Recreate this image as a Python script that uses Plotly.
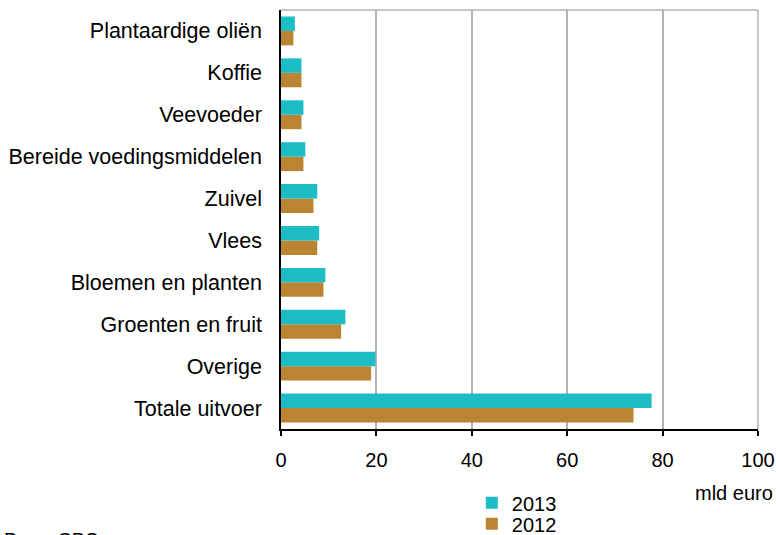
import plotly.graph_objects as go

categories = ["Plantaardige oliën", "Koffie", "Veevoeder", "Bereide voedingsmiddelen",
              "Zuivel", "Vlees", "Bloemen en planten", "Groenten en fruit",
              "Overige", "Totale uitvoer"]
values_2013 = [2.9, 4.3, 4.7, 5.1, 7.6, 8.0, 9.3, 13.5, 19.8, 77.7]
values_2012 = [2.6, 4.3, 4.3, 4.7, 6.8, 7.6, 8.9, 12.6, 18.9, 73.9]
x_ticks = [0, 20, 40, 60, 80, 100]

teal = "#1DBDC6"
brown = "#BA8433"
grid = "#B4B4B4"
font = "Liberation Sans, Arial, sans-serif"
FS = 20

fig = go.Figure()
fig.add_trace(go.Bar(y=categories, x=values_2012, name="2012", orientation="h",
                     legend="legend2",
                     marker=dict(color=brown, line=dict(width=0))))
fig.add_trace(go.Bar(y=categories, x=values_2013, name="2013", orientation="h",
                     legend="legend",
                     marker=dict(color=teal, line=dict(width=0))))

legend_common = dict(xanchor="left", yanchor="middle", font=dict(size=FS),
                     itemwidth=30, bgcolor="rgba(0,0,0,0)", borderwidth=0)

fig.update_layout(
    width=776, height=535,
    margin=dict(l=281, r=18, t=10, b=106, autoexpand=False),
    paper_bgcolor="white", plot_bgcolor="white",
    barmode="group", bargap=0.31, bargroupgap=0,
    font=dict(family=font, size=FS, color="#000000"),
    showlegend=True,
    legend=dict(x=0.4, y=-0.176, **legend_common),
    legend2=dict(x=0.4, y=-0.226, **legend_common),
    xaxis=dict(range=[0, 100], tickvals=x_ticks, showgrid=True, gridcolor=grid,
               gridwidth=1.5, zeroline=False, showline=True, linecolor="black", linewidth=1.5,
               ticks="outside", ticklen=5, tickcolor="black", tickwidth=1.5,
               ticklabelstandoff=7, tickfont=dict(size=FS), fixedrange=True),
    yaxis=dict(categoryorder="array", categoryarray=categories[::-1],
               showline=True, linecolor="black", linewidth=1.5, showgrid=False,
               ticks="", ticklabelstandoff=13, tickfont=dict(size=21.5), fixedrange=True),
    shapes=[dict(type="line", xref="paper", yref="paper", x0=0, x1=1, y0=1, y1=1,
                 line=dict(color=grid, width=1.5)),
            dict(type="line", xref="paper", yref="paper", x0=1, x1=1, y0=0, y1=1,
                 line=dict(color=grid, width=1.5))],
    annotations=[
        dict(text="mld euro", xref="paper", yref="paper", x=1.035, y=-0.122,
             xanchor="right", yanchor="top", showarrow=False, font=dict(size=FS)),
        dict(text="Bron: CBS", xref="paper", yref="paper", x=-0.585, y=-0.235,
             xanchor="left", yanchor="top", showarrow=False, font=dict(size=FS)),
    ],
)

fig.write_html("out.html", config={"displayModeBar": False},
               post_script="document.body.style.margin='0';document.body.style.overflow='hidden';")
